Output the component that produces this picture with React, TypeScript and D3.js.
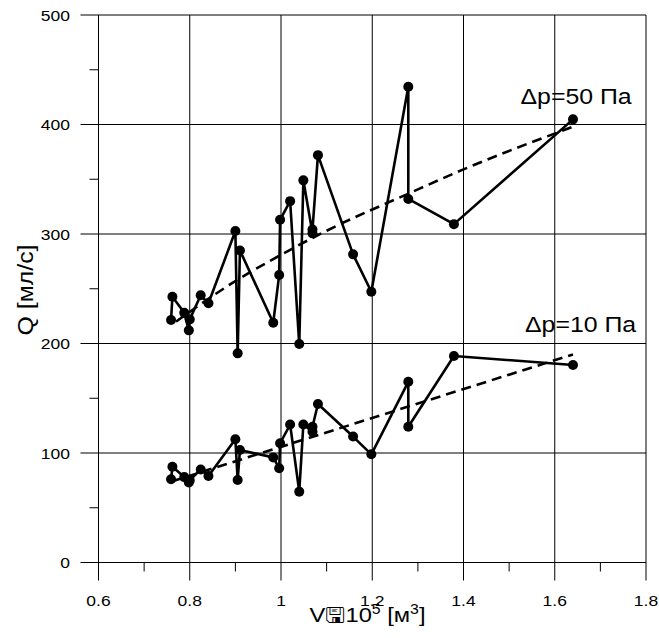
import React from "react";
import * as d3 from "d3";

// Shared volume values V·10^5 [m³]
const V = [0.759, 0.762, 0.788, 0.798, 0.800, 0.824, 0.841, 0.900, 0.905, 0.910, 0.983, 0.996, 0.998, 1.020, 1.040, 1.049, 1.069, 1.069, 1.081, 1.158, 1.198, 1.279, 1.279, 1.379, 1.640];
// Q [ml/s] at Δp = 50 Pa
const Q50 = [221.5, 242.7, 228, 212, 222, 244, 236.7, 302.7, 191, 285, 219, 262.5, 313, 330, 199.5, 349, 300.6, 304, 372, 281.4, 247.3, 434.5, 332, 309, 404.7];
// Q [ml/s] at Δp = 10 Pa
const Q10 = [76, 87.5, 78, 73, 75, 85, 79, 112.5, 75.3, 102.7, 96, 86, 108.9, 126, 64.7, 126, 119.5, 124, 144.7, 115, 98.8, 165, 124, 188.6, 180.4];

// Trend lines
const TREND50_V = [0.77, 0.9, 1.0, 1.1, 1.28, 1.4, 1.64];
const TREND50_Q = [220, 257, 281, 303, 337, 359, 398];
const TREND10_V = [0.76, 1.64];
const TREND10_Q = [74, 190];

const X_TICKS = [0.6, 0.8, 1, 1.2, 1.4, 1.6, 1.8];
const X_MINOR = [0.7, 0.9, 1.1, 1.3, 1.5, 1.7];
const Y_TICKS = [0, 100, 200, 300, 400, 500];
const Y_MINOR = [50, 150, 250, 350, 450];

const LABEL50 = "Δp=50 Па";
const LABEL10 = "Δp=10 Па";

const W = 659;
const H = 638;
const FONT = "'Liberation Sans', Arial, sans-serif";
const SX = 1.13;

export default function App() {
  const x = d3.scaleLinear().domain([0.6, 1.8]).range([98.5, 646]);
  const y = d3.scaleLinear().domain([0, 500]).range([562.5, 15]);

  const line = d3
    .line<[number, number]>()
    .x((d) => x(d[0]))
    .y((d) => y(d[1]));
  const curve = d3
    .line<[number, number]>()
    .x((d) => x(d[0]))
    .y((d) => y(d[1]))
    .curve(d3.curveMonotoneX);

  const s50: [number, number][] = V.map((v, i) => [v, Q50[i]]);
  const s10: [number, number][] = V.map((v, i) => [v, Q10[i]]);
  const t50: [number, number][] = TREND50_V.map((v, i) => [v, TREND50_Q[i]]);
  const t10: [number, number][] = TREND10_V.map((v, i) => [v, TREND10_Q[i]]);

  const x0 = x(0.6);
  const x1 = x(1.8);
  const y0 = y(0);
  const y1 = y(500);

  const fmtX = (d: number) => (d === 1 ? "1" : d.toFixed(1));

  const txt = (
    key: string,
    px: number,
    py: number,
    content: React.ReactNode,
    size: number,
    anchor: string,
    rot = 0
  ) => (
    <text
      key={key}
      transform={`translate(${px},${py}) rotate(${rot}) scale(${SX},1)`}
      fontSize={size}
      fontFamily={FONT}
      textAnchor={anchor}
      fill="#000"
    >
      {content}
    </text>
  );

  return (
    <svg
      width={W}
      height={H}
      style={{ position: "absolute", left: 0, top: 0, display: "block", background: "#fff" }}
    >
      <rect width={W} height={H} fill="#fff" />
      {/* vertical grid + major ticks */}
      {X_TICKS.map((t) => (
        <line key={"vx" + t} x1={x(t)} x2={x(t)} y1={y1} y2={y0 + 18} stroke="#000" strokeWidth={1} />
      ))}
      {X_MINOR.map((t) => (
        <line key={"mx" + t} x1={x(t)} x2={x(t)} y1={y0} y2={y0 + 9} stroke="#000" strokeWidth={1} />
      ))}
      {Y_TICKS.map((t) => (
        <line key={"hy" + t} x1={x0 - 18} x2={x1} y1={y(t)} y2={y(t)} stroke="#000" strokeWidth={1} />
      ))}
      {Y_MINOR.map((t) => (
        <line key={"my" + t} x1={x0 - 9} x2={x0} y1={y(t)} y2={y(t)} stroke="#000" strokeWidth={1} />
      ))}

      {/* tick labels */}
      {Y_TICKS.map((t) => txt("yl" + t, 70, y(t) + 5.5, String(t), 15.5, "end"))}
      {X_TICKS.map((t) => txt("xl" + t, x(t), 605.5, fmtX(t), 15.5, "middle"))}

      {/* trend lines */}
      <path d={curve(t50) || ""} fill="none" stroke="#000" strokeWidth={2.6} strokeDasharray="10,6" />
      <path d={line(t10) || ""} fill="none" stroke="#000" strokeWidth={2.6} strokeDasharray="10,6" />

      {/* data lines */}
      <path d={line(s50) || ""} fill="none" stroke="#000" strokeWidth={2.6} strokeLinejoin="round" />
      <path d={line(s10) || ""} fill="none" stroke="#000" strokeWidth={2.6} strokeLinejoin="round" />
      {s50.map((d, i) => (
        <circle key={"p50" + i} cx={x(d[0])} cy={y(d[1])} r={5} fill="#000" />
      ))}
      {s10.map((d, i) => (
        <circle key={"p10" + i} cx={x(d[0])} cy={y(d[1])} r={5} fill="#000" />
      ))}

      {/* series labels */}
      {txt("l50", 520.5, 104, LABEL50, 22, "start")}
      {txt("l10", 525, 332.3, LABEL10, 22, "start")}

      {/* axis titles */}
      {txt(
        "xt",
        367.5,
        622,
        <>
          {"V\u{1F5AB}10"}
          <tspan fontSize={14} dy={-8}>5</tspan>
          <tspan dy={8}>{" [м"}</tspan>
          <tspan fontSize={14} dy={-8}>3</tspan>
          <tspan dy={8}>]</tspan>
        </>,
        21,
        "middle"
      )}
      {txt("yt", 33, 290, "Q [мл/с]", 22, "middle", -90)}
    </svg>
  );
}
